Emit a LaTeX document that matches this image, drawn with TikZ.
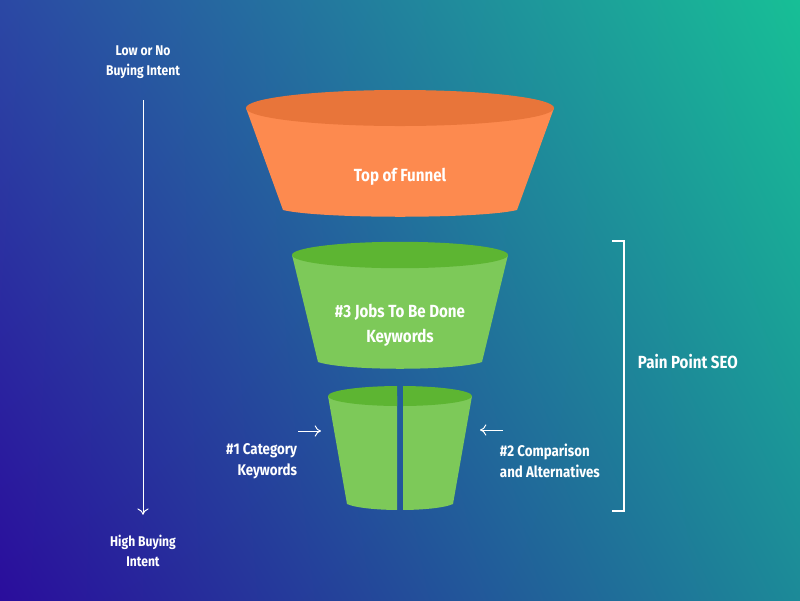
\documentclass[tikz,border=0pt]{standalone}
\usepackage{fontspec}
\setmainfont{Fira Sans}[FakeStretch=0.86]
\usepackage{xcolor}
\usetikzlibrary{arrows.meta,shadings}

\definecolor{bgTL}{HTML}{2B48A4}
\definecolor{bgTR}{HTML}{17BF96}
\definecolor{bgBL}{HTML}{2A0D9C}
\definecolor{bgBR}{HTML}{1C8A98}
\definecolor{orTop}{HTML}{E8753A}
\definecolor{orBody}{HTML}{FD8A4F}
\definecolor{grTop}{HTML}{5DB532}
\definecolor{grBody}{HTML}{7DC959}

\begin{document}
\begin{tikzpicture}[x=0.025cm, y=-0.025cm,
  lbl/.style={text=white, font=\bfseries\fontsize{12.5}{17.8}\selectfont, align=center},
  side/.style={text=white, font=\bfseries\fontsize{10}{14.2}\selectfont, align=center},
  thin arrow/.style={draw=white, line width=0.7pt, -{To[length=4.5pt,width=8pt]}}]
\shade[upper left=bgTL, upper right=bgTR, lower left=bgBL, lower right=bgBR] (0,0) rectangle (800,600);
\useasboundingbox (0,0) rectangle (800,600);

% top of funnel
\fill[orBody] (246,108) -- (283,210) .. controls (320,219) and (480,219) .. (517,210) -- (554,108) -- cycle;
\fill[orTop] (400,108) ellipse[x radius=3.85cm, y radius=0.45cm];
\node[lbl] (top) at (400,177) {Top of Funnel};

% middle
\fill[grBody] (292,255) -- (318,362) .. controls (345,371) and (455,371) .. (482,362) -- (508,255) -- cycle;
\fill[grTop] (400,255) ellipse[x radius=2.7cm, y radius=0.33cm];
\node[lbl] (jobs) at (400,325) {\#3 Jobs To Be Done\\Keywords};

% bottom cup, split in two
\foreach \xa/\xb in {300/397, 403/500} {
  \begin{scope}
    \clip (\xa,370) rectangle (\xb,530);
    \fill[grBody] (328,396) -- (347,504) .. controls (365,512) and (435,512) .. (453,504) -- (472,396) -- cycle;
    \fill[grTop] (400,396) ellipse[x radius=1.8cm, y radius=0.25cm];
  \end{scope}
}
\node[side, font=\bfseries\fontsize{11}{15}\selectfont, anchor=east, align=right] (cat) at (302,461) {\#1 Category\\Keywords};
\node[side, font=\bfseries\fontsize{11}{15}\selectfont, anchor=west, align=left] (comp) at (495,461) {\#2 Comparison\\and Alternatives};
\coordinate (catA) at (298,431);
\coordinate (catB) at (321,431);
\coordinate (compA) at (503,430);
\coordinate (compB) at (480,430);
\draw[thin arrow] (catA) -- (catB);
\draw[thin arrow] (compA) -- (compB);

% buying intent
\node[side] (low) at (143,62) {Low or No\\Buying Intent};
\node[side] (high) at (143,551) {High Buying\\Intent};
\draw[thin arrow, shorten <=12pt, shorten >=11pt] (low) -- (high);

% bracket
\coordinate (brT) at (612,241);
\coordinate (brB) at (612,511);
\draw[white, line width=1.2pt] (brT) -- ++(12,0) |- (brB);
\node[lbl, anchor=west] (pain) at (633,362) {Pain Point SEO};
\end{tikzpicture}
\end{document}
